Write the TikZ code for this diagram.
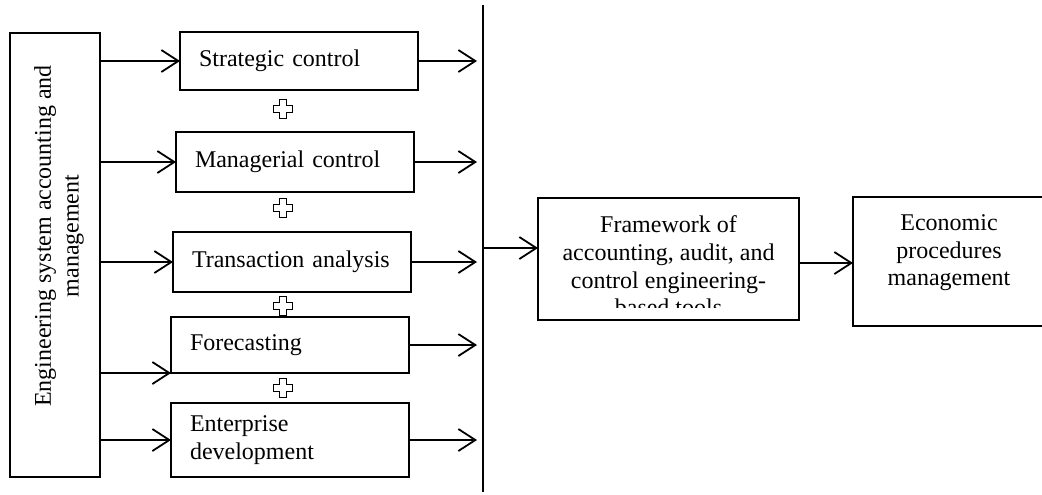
\documentclass[tikz,border=0pt]{standalone}
\usepackage{fontspec}
\setmainfont{Liberation Serif}
\usetikzlibrary{arrows.meta}
\tikzset{
  basenode/.style = {inner sep=0pt, outer sep=0pt},
  frame_node/.style = {basenode, rectangle, draw=black, line width=0.8pt},
  step_node/.style = {frame_node, align=left, text width=100pt, inner xsep=9.5pt, anchor=west},
  text_node/.style = {basenode, align=center},
  link/.style = {->, line width=0.9pt},
  to_bar/.style = {link, shorten >=3pt},
  plus_mark/.pic = {
    \draw [fill=white, line width=0.6pt] (-3.5,-9.5) -- (3.5,-9.5) -- (3.5,-3.5) -- (9.5,-3.5)
      -- (9.5,3.5) -- (3.5,3.5) -- (3.5,9.5) -- (-3.5,9.5) -- (-3.5,3.5) -- (-9.5,3.5)
      -- (-9.5,-3.5) -- (-3.5,-3.5) -- cycle;
  },
}

\begin{document}
\begin{tikzpicture}[x=0.5pt, y=-0.5pt, >={Straight Barb[length=8.5pt,width=11pt]},
    font=\fontsize{12pt}{13.8pt}\selectfont]
    \useasboundingbox (0,0) rectangle (1042,494);

    % left block
    \node [frame_node, minimum width=45pt, minimum height=222pt] (esam) at (55,255) {};
    \node [text_node, rotate=90] (esamtxt) at (59,236) {Engineering system accounting and\\management};

    % the five steps
    \node [step_node, minimum height=29pt] (sc) at (180,61) {Strategic control};
    \node [step_node, minimum height=30pt] (mc) at (176,162) {Managerial control};
    \node [step_node, minimum height=30pt] (ta) at (173,262) {Transaction analysis};
    \node [step_node, minimum height=28pt] (fc) at (171,345) {Forecasting};
    \node [step_node, minimum height=37pt] (ed) at (171,440) {Enterprise\\development};

    \foreach \y in {109,208,306,388}
        \pic at (283,\y) {plus_mark};

    % collecting bar
    \coordinate (vtop) at (483,5);
    \coordinate (vbot) at (483,492);
    \draw [line width=0.8pt] (vtop) -- (vbot);

    \foreach \n in {sc,mc,ta,ed} {
        \draw [link] (esam.east |- \n.west) -- (\n.west);
        \draw [to_bar] (\n.east) -- (vtop |- \n.east);
    }
    \draw [link] (esam.east |- fc.south west) -- (fc.south west);
    \draw [to_bar] (fc.east) -- (vtop |- fc.east);

    % right part
    \node [frame_node, minimum width=130.5pt, minimum height=61pt] (fw) at (668.5,259) {};
    \begin{scope}
        \clip ([shift={(2pt,-2pt)}]fw.north west) rectangle ([shift={(-2pt,6.5pt)}]fw.south east);
        \node [text_node] (fwtxt) at (668.5,266) {Framework of\\accounting, audit, and\\control engineering-\\based tools};
    \end{scope}
    \begin{scope}
        \clip (0,0) rectangle (1042,494);
        \node [frame_node, minimum width=110pt, minimum height=64.5pt] (eco) at (963,261.5) {};
    \end{scope}
    \node [text_node] (ecotxt) at (949,253) {Economic\\procedures\\management};

    \coordinate (fwin) at ([yshift=5.5pt]fw.west);
    \draw [link] (vtop |- fwin) -- (fwin);
    \draw [link] ([yshift=-2pt]fw.east) -- ([yshift=-2pt]eco.west |- fw.east);
\end{tikzpicture}
\end{document}
